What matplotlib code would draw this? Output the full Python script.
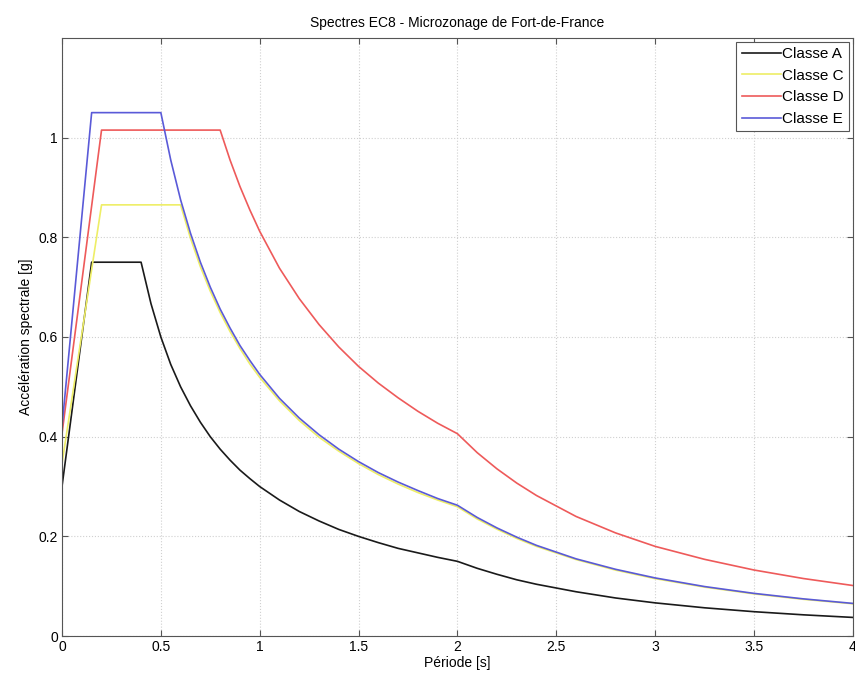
import matplotlib
matplotlib.use("Agg")
import matplotlib.pyplot as plt

plt.rcParams['font.family'] = ['Liberation Sans', 'DejaVu Sans']

# Data
period_A = [0, 0.15, 0.40, 0.45, 0.5, 0.55, 0.6, 0.65, 0.7, 0.75, 0.8, 0.85, 0.9, 0.95, 1.0, 1.1, 1.2, 1.3,
            1.4, 1.5, 1.6, 1.7, 1.8, 1.9, 2.0, 2.1, 2.2, 2.3, 2.4, 2.6, 2.8, 3.0, 3.25, 3.5, 3.75, 4.0]
accel_A = [0.30, 0.75, 0.75, 0.667, 0.60, 0.545, 0.50, 0.462, 0.429, 0.40, 0.375, 0.353, 0.333, 0.316, 0.30,
           0.273, 0.25, 0.231, 0.214, 0.20, 0.1875, 0.176, 0.167, 0.158, 0.15, 0.136, 0.124, 0.113, 0.104,
           0.089, 0.0765, 0.0667, 0.0568, 0.049, 0.0427, 0.0375]

period_C = [0, 0.2, 0.6, 0.65, 0.7, 0.75, 0.8, 0.85, 0.9, 0.95, 1.0, 1.1, 1.2, 1.3, 1.4, 1.5, 1.6, 1.7, 1.8,
            1.9, 2.0, 2.1, 2.2, 2.3, 2.4, 2.6, 2.8, 3.0, 3.25, 3.5, 3.75, 4.0]
accel_C = [0.346, 0.865, 0.865, 0.798, 0.741, 0.692, 0.649, 0.611, 0.577, 0.546, 0.519, 0.472, 0.4325, 0.399,
           0.371, 0.346, 0.324, 0.305, 0.288, 0.273, 0.2595, 0.235, 0.2145, 0.196, 0.180, 0.1536, 0.1324,
           0.1153, 0.0983, 0.0847, 0.0738, 0.0649]

period_D = [0, 0.2, 0.8, 0.85, 0.9, 0.95, 1.0, 1.1, 1.2, 1.3, 1.4, 1.5, 1.6, 1.7, 1.8, 1.9, 2.0,
            2.1, 2.2, 2.3, 2.4, 2.6, 2.8, 3.0, 3.25, 3.5, 3.75, 4.0]
accel_D = [0.406, 1.015, 1.015, 0.955, 0.902, 0.855, 0.812, 0.738, 0.677, 0.625, 0.58, 0.541, 0.5075, 0.478,
           0.451, 0.427, 0.406, 0.368, 0.3355, 0.307, 0.282, 0.240, 0.207, 0.180, 0.154, 0.1326, 0.1155, 0.1015]

period_E = [0, 0.15, 0.5, 0.55, 0.6, 0.65, 0.7, 0.75, 0.8, 0.85, 0.9, 0.95, 1.0, 1.1, 1.2, 1.3, 1.4, 1.5,
            1.6, 1.7, 1.8, 1.9, 2.0, 2.1, 2.2, 2.3, 2.4, 2.6, 2.8, 3.0, 3.25, 3.5, 3.75, 4.0]
accel_E = [0.42, 1.05, 1.05, 0.955, 0.875, 0.808, 0.75, 0.70, 0.656, 0.618, 0.583, 0.553, 0.525, 0.477,
           0.4375, 0.404, 0.375, 0.35, 0.328, 0.309, 0.292, 0.276, 0.2625, 0.238, 0.217, 0.1985, 0.182,
           0.155, 0.134, 0.1167, 0.0994, 0.0857, 0.0747, 0.0656]

labels = ['Classe A', 'Classe C', 'Classe D', 'Classe E']
x_ticks = [0, 0.5, 1, 1.5, 2, 2.5, 3, 3.5, 4]
x_tick_labels = ['0', '0.5', '1', '1.5', '2', '2.5', '3', '3.5', '4']
y_ticks = [0, 0.2, 0.4, 0.6, 0.8, 1.0]
y_tick_labels = ['0', '0.2', '0.4', '0.6', '0.8', '1']

colors = ['#1a1a1a', '#eeee66', '#ee5a5a', '#5a5ad8']

fig = plt.figure(figsize=(8.55, 6.76), dpi=100)
ax = fig.add_axes([0.0725, 0.059, 0.925, 0.885])

series = [(period_A, accel_A), (period_C, accel_C), (period_D, accel_D), (period_E, accel_E)]
for (p, a), lab, c in zip(series, labels, colors):
    ax.plot(p, a, color=c, lw=1.2, label=lab, solid_joinstyle='round')

ax.set_xlim(0, 4)
ax.set_ylim(0, 1.2)
ax.set_xticks(x_ticks)
ax.set_xticklabels(x_tick_labels)
ax.set_yticks(y_ticks)
ax.set_yticklabels(y_tick_labels)
ax.tick_params(direction='in', labelsize=10, length=4, color='#555555', top=True, right=True, pad=3)
ax.grid(True, linestyle=':', color='#d0d0d0', lw=0.8)
for s in ax.spines.values():
    s.set_color('#555555')
    s.set_linewidth(0.8)

ax.set_xlabel('Période [s]', fontsize=10, labelpad=1)
ax.set_ylabel('Accélération spectrale [g]', fontsize=10, labelpad=4)
ax.set_title('Spectres EC8 - Microzonage de Fort-de-France', fontsize=10, pad=8)

leg = ax.legend(loc='upper right', fontsize=11, handlelength=2.6, handletextpad=0.05,
                labelspacing=0.5, borderpad=0.35, fancybox=False, framealpha=1,
                borderaxespad=0.25)
leg.get_frame().set_edgecolor('#555555')
leg.get_frame().set_linewidth(0.8)

fig.savefig('out.png', dpi=100)
